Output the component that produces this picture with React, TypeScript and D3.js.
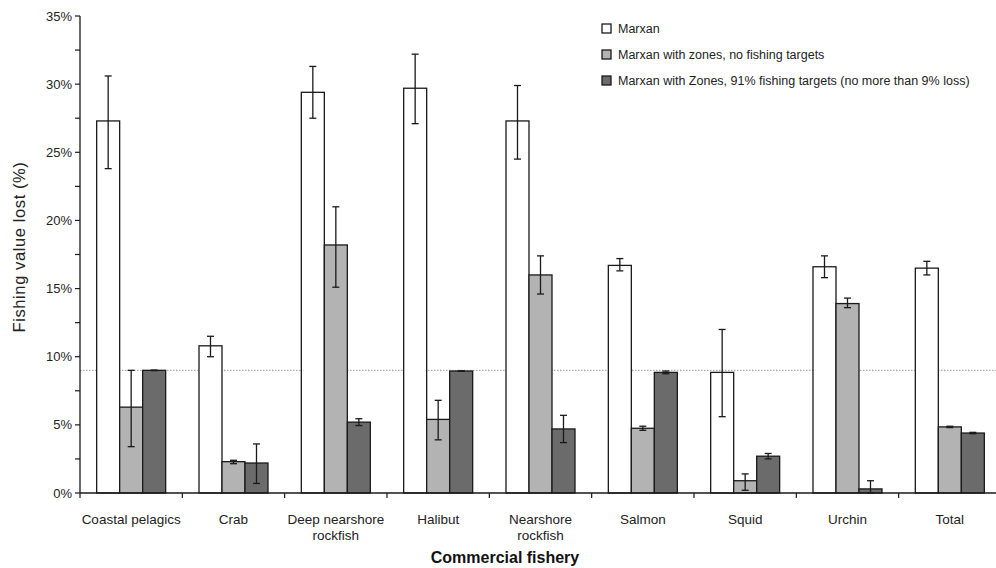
import React, { useRef, useEffect } from 'react';
import * as d3 from 'd3';

const categories = [
  ['Coastal pelagics'],
  ['Crab'],
  ['Deep nearshore', 'rockfish'],
  ['Halibut'],
  ['Nearshore', 'rockfish'],
  ['Salmon'],
  ['Squid'],
  ['Urchin'],
  ['Total'],
];

const seriesNames = [
  'Marxan',
  'Marxan with zones, no fishing targets',
  'Marxan with Zones, 91% fishing targets (no more than 9% loss)',
];

// values in %, with lower/upper error bounds
const marxan = [27.3, 10.8, 29.4, 29.7, 27.3, 16.7, 8.85, 16.6, 16.5];
const marxanLo = [23.8, 10.0, 27.5, 27.1, 24.5, 16.3, 5.6, 15.8, 16.0];
const marxanHi = [30.6, 11.5, 31.3, 32.2, 29.9, 17.2, 12.0, 17.4, 17.0];

const zonesNoTarget = [6.3, 2.3, 18.2, 5.4, 16.0, 4.75, 0.9, 13.9, 4.85];
const zonesNoTargetLo = [3.4, 2.15, 15.1, 3.9, 14.6, 4.6, 0.2, 13.6, 4.8];
const zonesNoTargetHi = [9.0, 2.4, 21.0, 6.8, 17.4, 4.9, 1.4, 14.3, 4.9];

const zones91 = [9.0, 2.2, 5.2, 8.95, 4.7, 8.85, 2.7, 0.3, 4.4];
const zones91Lo = [8.98, 0.7, 4.95, 8.93, 3.7, 8.75, 2.5, 0.0, 4.35];
const zones91Hi = [9.02, 3.6, 5.45, 8.97, 5.7, 8.95, 2.9, 0.9, 4.45];

const yTicks = [0, 5, 10, 15, 20, 25, 30, 35];
const yMinorTicks = [0, 2.5, 5, 7.5, 10, 12.5, 15, 17.5, 20, 22.5, 25, 27.5, 30, 32.5, 35];
const targetLine = 9;

const fills = ['#ffffff', '#b3b3b3', '#6b6b6b'];

const App: React.FC = () => {
  const ref = useRef<SVGSVGElement | null>(null);

  useEffect(() => {
    if (!ref.current) return;
    const svg = d3.select(ref.current);
    svg.selectAll('*').remove();

    const width = 996;
    const height = 568;
    const margin = { top: 16, right: -5, bottom: 75, left: 80 };
    const innerW = width - margin.left - margin.right;
    const innerH = height - margin.top - margin.bottom;
    const font = 'Liberation Sans, Arial, sans-serif';

    const g = svg.append('g').attr('transform', `translate(${margin.left},${margin.top})`);

    const x = d3.scaleBand<number>()
      .domain(categories.map((_, i) => i))
      .range([0, innerW]);

    const sub = d3.scaleBand<number>()
      .domain([0, 1, 2])
      .range([0, 69])
      .padding(0);

    const y = d3.scaleLinear().domain([0, 35]).range([innerH, 0]);

    // dotted target line
    g.append('line')
      .attr('x1', 0).attr('x2', innerW)
      .attr('y1', y(targetLine)).attr('y2', y(targetLine))
      .attr('stroke', '#9a9a9a')
      .attr('stroke-width', 1)
      .attr('stroke-dasharray', '1.5,1.5');

    const series = [
      { v: marxan, lo: marxanLo, hi: marxanHi },
      { v: zonesNoTarget, lo: zonesNoTargetLo, hi: zonesNoTargetHi },
      { v: zones91, lo: zones91Lo, hi: zones91Hi },
    ];

    series.forEach((s, si) => {
      const grp = g.append('g');
      s.v.forEach((val, ci) => {
        const x0 = (x(ci) || 0) + x.bandwidth() / 2 - 34.5 + (sub(si) || 0);
        grp.append('rect')
          .attr('x', x0)
          .attr('y', y(val))
          .attr('width', sub.bandwidth())
          .attr('height', y(0) - y(val))
          .attr('fill', fills[si])
          .attr('stroke', '#1a1a1a')
          .attr('stroke-width', 1.3);
        const cx = x0 + sub.bandwidth() / 2;
        const lo = y(s.lo[ci]);
        const hi = y(s.hi[ci]);
        grp.append('line')
          .attr('x1', cx).attr('x2', cx).attr('y1', lo).attr('y2', hi)
          .attr('stroke', '#1a1a1a').attr('stroke-width', 1.3);
        [lo, hi].forEach(yy => {
          grp.append('line')
            .attr('x1', cx - 3.5).attr('x2', cx + 3.5).attr('y1', yy).attr('y2', yy)
            .attr('stroke', '#1a1a1a').attr('stroke-width', 1.3);
        });
      });
    });

    // y axis
    const yAxis = g.append('g');
    yAxis.append('line')
      .attr('x1', 0).attr('x2', 0).attr('y1', 0).attr('y2', innerH)
      .attr('stroke', '#1a1a1a').attr('stroke-width', 1.3);
    yMinorTicks.forEach(t => {
      yAxis.append('line')
        .attr('x1', -5).attr('x2', 0).attr('y1', y(t)).attr('y2', y(t))
        .attr('stroke', '#1a1a1a').attr('stroke-width', 1.2);
    });
    yTicks.forEach(t => {
      yAxis.append('text')
        .attr('x', -8).attr('y', y(t)).attr('dy', '0.35em')
        .attr('text-anchor', 'end')
        .attr('font-family', font).attr('font-size', 13).attr('fill', '#222')
        .text(`${t}%`);
    });

    // x axis
    const xAxis = g.append('g').attr('transform', `translate(0,${innerH})`);
    xAxis.append('line')
      .attr('x1', 0).attr('x2', innerW)
      .attr('stroke', '#1a1a1a').attr('stroke-width', 1.5);
    d3.range(categories.length + 1).forEach(i => {
      const xx = i < categories.length ? (x(i) || 0) : innerW;
      xAxis.append('line')
        .attr('x1', xx).attr('x2', xx).attr('y1', 0).attr('y2', 5)
        .attr('stroke', '#1a1a1a').attr('stroke-width', 1.2);
    });
    categories.forEach((lines, i) => {
      const t = xAxis.append('text')
        .attr('x', (x(i) || 0) + x.bandwidth() / 2)
        .attr('y', 31)
        .attr('text-anchor', 'middle')
        .attr('font-family', font).attr('font-size', 13.5).attr('fill', '#222');
      lines.forEach((ln, li) => {
        t.append('tspan')
          .attr('x', (x(i) || 0) + x.bandwidth() / 2)
          .attr('dy', li === 0 ? 0 : 16)
          .text(ln);
      });
    });

    // axis titles
    svg.append('text')
      .attr('transform', `translate(25,247) rotate(-90)`)
      .attr('text-anchor', 'middle')
      .attr('font-family', font).attr('font-size', 16.5).attr('fill', '#222')
      .attr('letter-spacing', 0.6)
      .text('Fishing value lost (%)');

    svg.append('text')
      .attr('x', 505).attr('y', 563)
      .attr('text-anchor', 'middle')
      .attr('font-family', font).attr('font-size', 16).attr('font-weight', 'bold')
      .attr('fill', '#111')
      .text('Commercial fishery');

    // legend
    const legend = svg.append('g').attr('transform', 'translate(602,24)');
    seriesNames.forEach((name, i) => {
      const row = legend.append('g').attr('transform', `translate(0,${i * 26})`);
      row.append('rect')
        .attr('x', 0).attr('y', 0).attr('width', 9).attr('height', 9)
        .attr('fill', fills[i]).attr('stroke', '#1a1a1a').attr('stroke-width', 1.3);
      row.append('text')
        .attr('x', 16).attr('y', 4.5).attr('dy', '0.35em')
        .attr('font-family', font).attr('font-size', 12.5).attr('fill', '#222')
        .text(name);
    });
  }, []);

  return (
    <svg
      ref={ref}
      width={996}
      height={568}
      style={{ display: 'block', position: 'absolute', left: 0, top: 0, background: '#fff' }}
    />
  );
};

export default App;
